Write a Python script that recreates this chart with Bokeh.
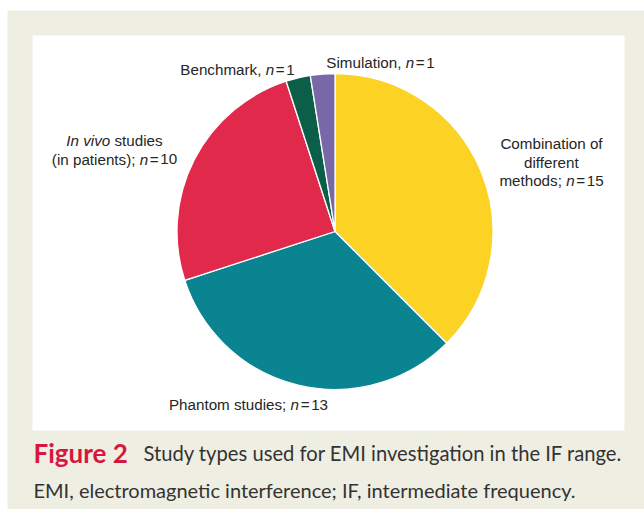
import math
from bokeh.plotting import figure
from bokeh.models import Range1d
from bokeh.core.properties import value
from bokeh.embed import file_html
from bokeh.resources import INLINE

# ---- data ----
categories = ["Combination of different methods", "Phantom studies",
              "In vivo studies (in patients)", "Benchmark", "Simulation"]
counts = [15, 13, 10, 1, 1]
colors = ["#fcd224", "#0b8491", "#e0294b", "#0b5f48", "#7868a8"]

caption_bold = "Figure 2"
caption_line1 = "Study types used for EMI investigation in the IF range."
caption_line2 = "EMI, electromagnetic interference; IF, intermediate frequency."

# ---- layout helpers ----
W, H = 644, 509
IMG_H = 509


def Y(img_y):
    return IMG_H - img_y


p = figure(width=W, height=H, x_range=Range1d(0, W),
           y_range=Range1d(0, H), output_backend="svg",
           toolbar_location=None, min_border=0,
           x_axis_type=None, y_axis_type=None)
p.grid.visible = False
p.outline_line_color = None
p.background_fill_color = "white"
p.border_fill_color = "white"

# beige page and white panel
p.quad(left=[7], right=[644], top=[Y(10)], bottom=[Y(509)],
       fill_color="#efeee3", line_color=None)
p.quad(left=[32], right=[624], top=[Y(35)], bottom=[Y(430)],
       fill_color="white", line_color=None)

# ---- pie ----
cx, cy, r = 334.5, 231, 158
total = sum(counts)
starts, ends = [], []
cum = 0
for c in counts:
    starts.append(math.radians(90 - 360 * cum / total))
    cum += c
    ends.append(math.radians(90 - 360 * cum / total))
p.wedge(x=[cx] * len(counts), y=[Y(cy)] * len(counts), radius=r,
        start_angle=starts, end_angle=ends, direction="clock",
        fill_color=colors, line_color="white", line_width=1.3)

# ---- labels with italic n ----
HW = {' ': 278, ',': 278, ';': 278, '(': 333, ')': 333, '=': 584,
      'A': 667, 'B': 667, 'C': 722, 'I': 278, 'P': 667, 'S': 667,
      'a': 556, 'b': 556, 'c': 500, 'd': 556, 'e': 556, 'f': 278, 'g': 556,
      'h': 556, 'i': 222, 'k': 500, 'l': 222, 'm': 833, 'n': 556, 'o': 556,
      'p': 556, 'r': 333, 's': 500, 't': 278, 'u': 556, 'v': 500, 'y': 500}
FS = 15.2
GAP = 1.6  # small extra spacing around "="


def tw(s):
    if s == "=":
        return HW['='] / 1000.0 * FS + 2 * GAP
    return sum(HW.get(ch, 556) for ch in s) / 1000.0 * FS


def nseg(k):
    return [("n", 1), ("=", 0), ("%d" % k, 0)]


label_lines = [
    [[("Combination of", 0)], [("different", 0)], [("methods; ", 0)] + nseg(counts[0])],
    [[("Phantom studies; ", 0)] + nseg(counts[1])],
    [[("In vivo", 1), (" studies", 0)], [("(in patients); ", 0)] + nseg(counts[2])],
    [[("Benchmark, ", 0)] + nseg(counts[3])],
    [[("Simulation, ", 0)] + nseg(counts[4])],
]
label_pos = [(551, 143), (248, 404), (114, 140), (237, 69), (380, 62)]
LS = 18.5

segs = {0: ([], [], []), 1: ([], [], [])}
for lines, (lx, ly) in zip(label_lines, label_pos):
    for i, line in enumerate(lines):
        total_w = sum(tw(t) for t, _ in line)
        x = lx - total_w / 2
        yy = ly + i * LS
        for t, it in line:
            lead = len(t) - len(t.lstrip(" "))
            off = tw(" " * lead) if lead else (GAP if t == "=" else 0)
            xs, ys, ts = segs[it]
            xs.append(x + off)
            ys.append(Y(yy))
            ts.append(t.strip(" "))
            x += tw(t)

for it, (xs, ys, ts) in segs.items():
    p.text(x=xs, y=ys, text=ts, text_font=value("Liberation Sans"),
           text_font_size=value("%gpx" % FS),
           text_font_style="italic" if it else "normal",
           text_align="left", text_baseline="middle", text_color="#262626")

# ---- caption ----
p.text(x=[33], y=[Y(452)], text=[caption_bold], text_font=value("Lato"),
       text_font_size=value("26px"), text_font_style="bold",
       text_align="left", text_baseline="middle", text_color="#d7173f")
p.text(x=[143], y=[Y(452)], text=[caption_line1], text_font=value("Lato"),
       text_font_size=value("20.2px"), text_align="left", text_baseline="middle",
       text_color="#333333")
p.text(x=[33], y=[Y(489)], text=[caption_line2], text_font=value("Lato"),
       text_font_size=value("20px"), text_align="left", text_baseline="middle",
       text_color="#333333")

open("out.html", "w").write(file_html(p, INLINE))
